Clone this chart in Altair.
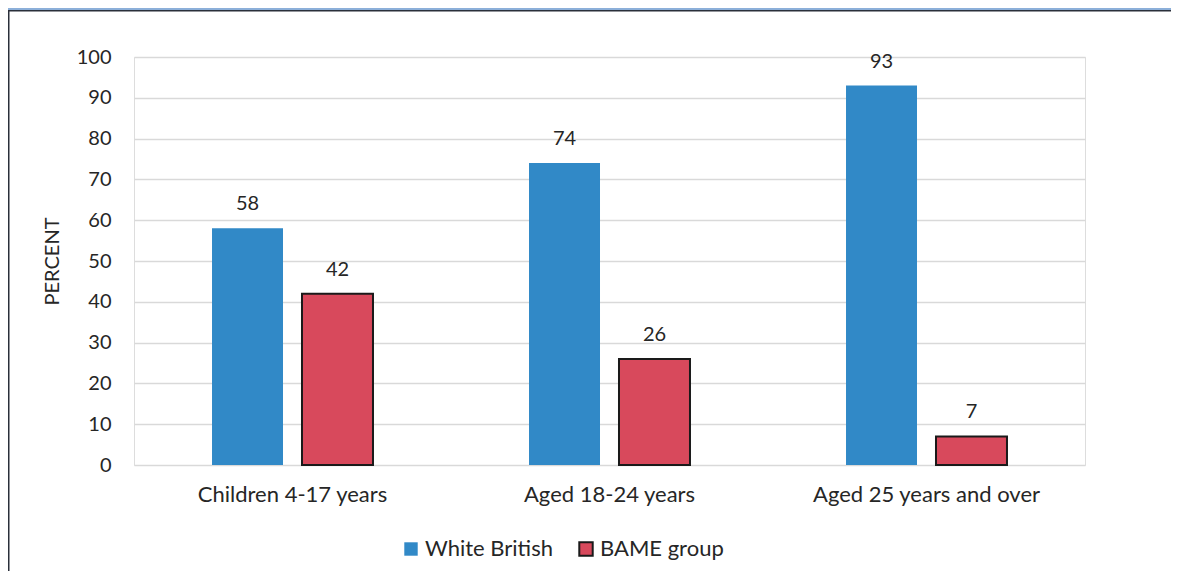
import altair as alt
import pandas as pd

categories = ["Children 4-17 years", "Aged 18-24 years", "Aged 25 years and over"]
groups = ["White British", "BAME group"]
white_british = [58, 74, 93]
bame = [42, 26, 7]
y_ticks = [0, 10, 20, 30, 40, 50, 60, 70, 80, 90, 100]

rows = []
for c, w, b in zip(categories, white_british, bame):
    rows.append({"category": c, "group": groups[0], "value": w})
    rows.append({"category": c, "group": groups[1], "value": b})
df = pd.DataFrame(rows)

FONT = "Lato"
BLUE = "#3189c7"
RED = "#d8495c"

x = alt.X("category:N", sort=categories,
          scale=alt.Scale(paddingInner=0, paddingOuter=0),
          axis=alt.Axis(title=None, labelAngle=0, domain=False, ticks=False, grid=False,
                        labelPadding=19, labelFontSize=22, labelColor="#262626",
                        labelFont=FONT, labelLimit=0))
xo = alt.XOffset("group:N", sort=groups,
                 scale=alt.Scale(paddingInner=0.211, paddingOuter=0.867))
y = alt.Y("value:Q", scale=alt.Scale(domain=[0, 100]),
          axis=alt.Axis(title="PERCENT", values=y_ticks, domain=False, ticks=False,
                        gridColor="#d9d9d9", gridWidth=1.5, labelPadding=23,
                        labelFontSize=20, labelColor="#262626", labelFont=FONT,
                        titleFont=FONT, titleFontSize=20, titleFontWeight="normal",
                        titleColor="#262626", titlePadding=14))

base = alt.Chart(df)

bars = base.mark_bar(strokeWidth=2).encode(
    x=x, xOffset=xo, y=y,
    fill=alt.Fill("group:N", sort=groups,
                  scale=alt.Scale(domain=groups, range=[BLUE, RED]),
                  legend=alt.Legend(title=None, orient="none", direction="horizontal",
                                    legendX=266, legendY=481, symbolType="square",
                                    symbolSize=180, symbolStrokeWidth=2,
                                    labelFontSize=22, labelFont=FONT,
                                    labelColor="#262626", columnPadding=22,
                                    labelOffset=3, labelLimit=0)),
    stroke=alt.Stroke("group:N", sort=groups,
                      scale=alt.Scale(domain=groups, range=["transparent", "#1a1a1a"]),
                      legend=None),
)

labels = base.mark_text(baseline="alphabetic", dy=-18, fontSize=20, font=FONT,
                        color="#262626").encode(
    x=x, xOffset=xo, y=y, text=alt.Text("value:Q"))

deco_df = pd.DataFrame({"k": [0]})
band = alt.Chart(deco_df).mark_rect(color="#8cafd9").encode(
    x=alt.value(-126), x2=alt.value(1045), y=alt.value(-49), y2=alt.value(-47))
band_line = alt.Chart(deco_df).mark_rect(color="#2a2f3a").encode(
    x=alt.value(-126), x2=alt.value(1045), y=alt.value(-47), y2=alt.value(-45.5))
left_line = alt.Chart(deco_df).mark_rect(color="#2a2f3a").encode(
    x=alt.value(-126), x2=alt.value(-124.5), y=alt.value(-47), y2=alt.value(522))

chart = alt.layer(bars, labels, band, band_line, left_line).properties(
    width=951, height=408,
    autosize=alt.AutoSizeParams(type="none"),
    padding={"left": 126, "top": 49, "right": 86, "bottom": 106},
).configure_view(stroke=None).configure(background="white")

chart.save("out.html", embed_options={"renderer": "svg", "actions": False})
